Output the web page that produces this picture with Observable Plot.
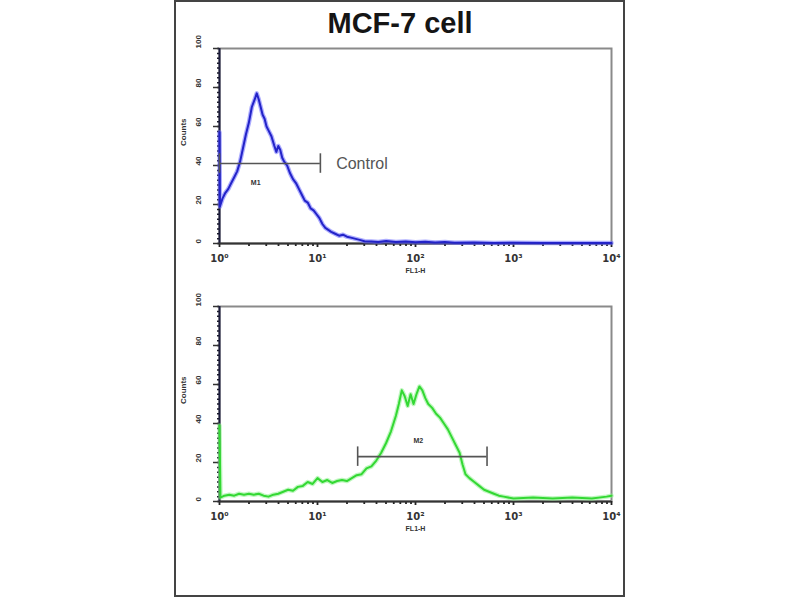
<!DOCTYPE html>
<html>
<head>
<meta charset="utf-8">
<script src="https://cdn.jsdelivr.net/npm/d3@7"></script>
<script src="https://cdn.jsdelivr.net/npm/@observablehq/plot@0.6"></script>
<style>
  html, body { margin: 0; padding: 0; background: #fff; }
  #page { position: relative; width: 800px; height: 600px; overflow: hidden; background: #fff; font-family: "Liberation Sans", Arial, sans-serif; }
  #border { position: absolute; left: 174px; top: 0px; width: 447px; height: 593px; border: 2px solid #444; }
  #title { position: absolute; left: 0; width: 800px; top: 5px; text-align: center; font-size: 29px; font-weight: bold; color: #151515; line-height: 36px; }
  .panel { position: absolute; left: 175px; }
</style>
</head>
<body>
<div id="page">
  <div id="border"></div>
  <div id="title">MCF-7 cell</div>
  <div id="p1" class="panel" style="top:40px"></div>
  <div id="p2" class="panel" style="top:298px"></div>
</div>
<script>
// ---- Data (FL1-H fluorescence vs. counts) ----
const controlFL = [1, 1.01, 1.072, 1.148, 1.230, 1.318, 1.413, 1.514, 1.622, 1.738, 1.862, 1.995, 2.138, 2.291, 2.399, 2.512, 2.630, 2.754, 2.884, 3.020, 3.162, 3.388, 3.631, 3.802, 3.981, 4.169, 4.365, 4.571, 4.898, 5.248, 5.623, 6.026, 6.457, 6.918, 7.413, 7.943, 8.511, 9.120, 9.772, 10.47, 11.22, 12.02, 12.88, 13.80, 15.14, 16.60, 18.20, 19.95, 21.88, 23.99, 26.30, 30.20, 35.48, 41.69, 50.12, 63.10, 79.43, 100, 125.9, 158.5, 199.5, 251.2, 398.1, 631.0, 1000, 1995, 3981, 10000];
const controlCounts = [57, 19, 23, 26, 28, 31, 34, 37, 42, 49, 56, 62, 70, 74, 77, 74, 70, 66, 64, 60, 58, 55, 50, 47, 50, 48, 44, 42, 40, 36, 33, 31, 28, 25, 22, 21, 18, 17, 15, 13, 10, 8, 7, 6, 5, 4, 4.5, 3.5, 3, 2.5, 2, 1.2, 1, 0.8, 1.3, 0.8, 1, 0.6, 0.9, 0.5, 0.8, 0.4, 0.5, 0.3, 0.4, 0.3, 0.3, 0.3];

const sampleFL = [1, 1.023, 1.122, 1.259, 1.413, 1.585, 1.778, 1.995, 2.239, 2.512, 2.818, 3.162, 3.548, 3.981, 4.467, 5.012, 5.623, 6.310, 7.079, 7.943, 8.913, 10, 11.22, 12.59, 14.13, 15.85, 17.78, 19.95, 22.39, 25.12, 28.18, 31.62, 35.48, 39.81, 44.67, 50.12, 56.23, 63.10, 67.61, 72.44, 77.62, 83.18, 89.13, 95.50, 102.3, 109.6, 117.5, 125.9, 134.9, 147.9, 162.2, 177.8, 195.0, 213.8, 234.4, 257.0, 281.8, 302.0, 323.6, 354.8, 398.1, 446.7, 501.2, 562.3, 631.0, 707.9, 794.3, 1000, 1585, 2512, 3981, 6310, 8913, 10000];
const sampleCounts = [39, 2, 3, 3.5, 3, 4, 3.5, 4, 3.5, 4, 3, 2.5, 3.5, 4, 5, 6, 5.5, 7.5, 8, 10, 9, 12, 10, 11, 9.5, 10.5, 11, 10.5, 12, 13.5, 14, 17, 18, 21, 25, 30, 36, 44, 50, 57, 54, 49, 55, 50, 55, 59, 57, 53, 50, 48, 45, 43, 40, 37, 33, 29, 25, 19, 14, 12, 10, 8, 6, 5, 4, 3, 2.5, 1.5, 2, 1.5, 2, 1.5, 2.5, 3];

// Gates (markers)
const m1Gate = {x1: 1, x2: 10.7, y: 41, label: "M1", labelX: 2.34, labelY: 31};
const m2Gate = {x1: 25.7, x2: 537, y: 23, label: "M2", labelX: 107, labelY: 31};

// Axis ticks
const yTickLabels = [0, 20, 40, 60, 80, 100];
const yMinorTicks = d3.range(0, 100.1, 2.5);
const xMajorTicks = [1, 10, 100, 1000, 10000];
const xMajorLabels = ["10\u2070", "10\u00b9", "10\u00b2", "10\u00b3", "10\u2074"];
const xMinorTicks = [2,3,4,5,6,7,8,9,20,30,40,50,60,70,80,90,200,300,400,500,600,700,800,900,2000,3000,4000,5000,6000,7000,8000,9000];

function panel(fl, counts, color, halo, gate, extraText) {
  const data = fl.map((x, i) => ({x, y: counts[i]}));
  const marks = [
    Plot.frame({stroke: "#8a8a8a", strokeWidth: 2}),
    Plot.axisY({ticks: yMinorTicks, tickSize: 2, tickFormat: () => "", label: null, stroke: "#1a1a2a", strokeWidth: 1.5}),
    Plot.axisY({ticks: yTickLabels, tickSize: 6, tickFormat: () => "", label: null, stroke: "#333", strokeWidth: 1.5}),
    Plot.axisX({ticks: xMinorTicks, tickSize: 3, tickFormat: () => "", label: null, stroke: "#222", strokeWidth: 1.8}),
    Plot.axisX({ticks: xMajorTicks, tickSize: 4, tickFormat: () => "", label: null, stroke: "#222", strokeWidth: 1.8}),
    Plot.ruleX([1], {stroke: "#1c1c3c", strokeWidth: 2}),
    Plot.ruleY([0], {stroke: "#333", strokeWidth: 2}),
    Plot.text(yTickLabels, {y: d => d, text: d => String(d), frameAnchor: "left", dx: -21, rotate: -90, fontSize: 8, fontWeight: "bold", fill: "#333"}),
    Plot.text(xMajorTicks, {x: d => d, text: (d, i) => xMajorLabels[i], frameAnchor: "bottom", dy: 18, fontSize: 10, fontWeight: "bold", fontFamily: "DejaVu Sans", fill: "#333"}),
    Plot.text(["FL1-H"], {x: 100, text: d => d, frameAnchor: "bottom", dy: 29, fontSize: 7, fontWeight: "bold", fill: "#333"}),
    Plot.text(["Counts"], {y: 50, text: d => d, frameAnchor: "left", dx: -36, rotate: -90, fontSize: 8, fontWeight: "bold", fill: "#333"}),
    Plot.line(data, {x: "x", y: "y", stroke: halo, strokeWidth: 4.5, strokeOpacity: 0.55}),
    Plot.line(data, {x: "x", y: "y", stroke: color, strokeWidth: 2}),
    Plot.ruleY([gate], {x1: "x1", x2: "x2", y: "y", stroke: "#555", strokeWidth: 1.6}),
    Plot.ruleX([gate], {x: "x1", y1: d => d.y - 5, y2: d => d.y + 5, stroke: "#555", strokeWidth: 1.6}),
    Plot.ruleX([gate], {x: "x2", y1: d => d.y - 5, y2: d => d.y + 5, stroke: "#555", strokeWidth: 1.6}),
    Plot.text([gate], {x: "labelX", y: "labelY", text: "label", fontSize: 7, fontWeight: "bold", fill: "#333"})
  ];
  if (extraText) marks.push(Plot.text([extraText], {x: extraText.x, y: extraText.y, text: d => d.text, textAnchor: "start", fontSize: 16, fill: "#555"}));
  return Plot.plot({
    width: 450, height: 240,
    marginLeft: 44, marginRight: 14, marginTop: 8, marginBottom: 37,
    style: {background: "transparent", fontFamily: "Liberation Sans, Arial, sans-serif", overflow: "visible"},
    x: {type: "log", domain: [1, 10000]},
    y: {domain: [0, 100]},
    marks
  });
}

document.getElementById("p1").appendChild(panel(controlFL, controlCounts, "#2323c8", "#6a6aff", m1Gate, {x: 15.5, y: 41, text: "Control"}));
document.getElementById("p2").appendChild(panel(sampleFL, sampleCounts, "#33d833", "#8cf08c", m2Gate, null));
</script>
</body>
</html>
